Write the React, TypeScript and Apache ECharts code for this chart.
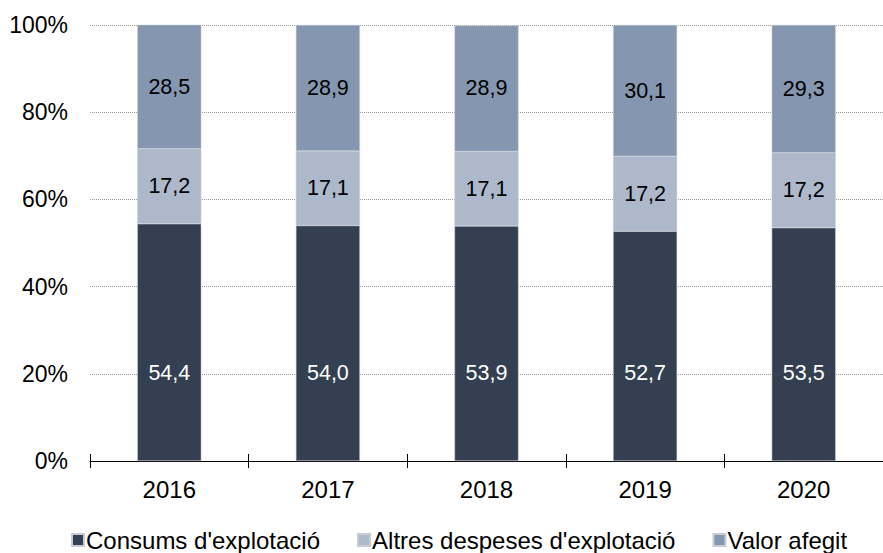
import React, { useEffect, useRef } from "react";
import * as echarts from "echarts";

const years = ["2016", "2017", "2018", "2019", "2020"];
const consums = [54.4, 54.0, 53.9, 52.7, 53.5];
const altres = [17.2, 17.1, 17.1, 17.2, 17.2];
const valor = [28.5, 28.9, 28.9, 30.1, 29.3];
const seriesNames = ["Consums d'explotació", "Altres despeses d'explotació", "Valor afegit"];
const yTicks = [0, 20, 40, 60, 80, 100];

const FONT = "Liberation Sans, Arial, sans-serif";
const fmt = (v: number) => v.toFixed(1).replace(".", ",");

export default function App() {
  const ref = useRef<HTMLDivElement>(null);
  useEffect(() => {
    document.body.style.margin = "0";
    const chart = echarts.init(ref.current!, null, { renderer: "svg" });
    const mk = (name: string, data: number[], color: string, labelColor: string, bottom: boolean) => ({
      name,
      type: "bar",
      stack: "total",
      barWidth: 64,
      data,
      itemStyle: { color, borderColor: "#c8ccd2", borderWidth: 0.5 },
      label: {
        show: true,
        position: bottom ? "insideBottom" : "inside",
        distance: bottom ? 77 : 5,
        color: labelColor,
        fontSize: 21.5,
        fontFamily: FONT,
        formatter: (p: any) => fmt(p.value),
      },
    });
    chart.setOption({
      animation: false,
      grid: { left: 90, right: -7, top: 25, bottom: 92, containLabel: false },
      legend: {
        top: 528,
        left: 71,
        padding: 0,
        itemWidth: 12,
        itemHeight: 12,
        itemGap: 37,
        icon: "rect",
        textStyle: { fontSize: 24, lineHeight: 24, fontFamily: FONT, color: "#000", padding: [0, 0, 0, -3] },
        data: seriesNames,
      },
      xAxis: [
        {
          type: "category",
          data: years,
          axisLine: { show: true, lineStyle: { color: "#000", width: 1 } },
          axisTick: { show: true, length: 7, lineStyle: { color: "#000" } },
          axisLabel: { fontSize: 24, fontFamily: FONT, color: "#000", margin: 16 },
        },
        {
          type: "category",
          data: years,
          position: "bottom",
          axisLine: { show: false },
          axisTick: { show: true, inside: true, length: 7, lineStyle: { color: "#000" } },
          axisLabel: { show: false },
        },
      ],
      yAxis: {
        type: "value",
        min: yTicks[0],
        max: yTicks[yTicks.length - 1],
        interval: 20,
        axisLine: { show: false },
        axisTick: { show: false },
        axisLabel: { fontSize: 23, fontFamily: FONT, color: "#000", margin: 22, formatter: "{value}%" },
        splitLine: { show: true, lineStyle: { color: "#9a9a9a", type: [1, 1], width: 1 } },
      },
      series: [
        mk(seriesNames[0], consums, "#343f51", "#ffffff", true),
        mk(seriesNames[1], altres, "#adb8ca", "#000000", false),
        mk(seriesNames[2], valor, "#8597b0", "#000000", false),
      ],
    });
    return () => chart.dispose();
  }, []);
  return <div ref={ref} style={{ width: 883, height: 553 }} />;
}
